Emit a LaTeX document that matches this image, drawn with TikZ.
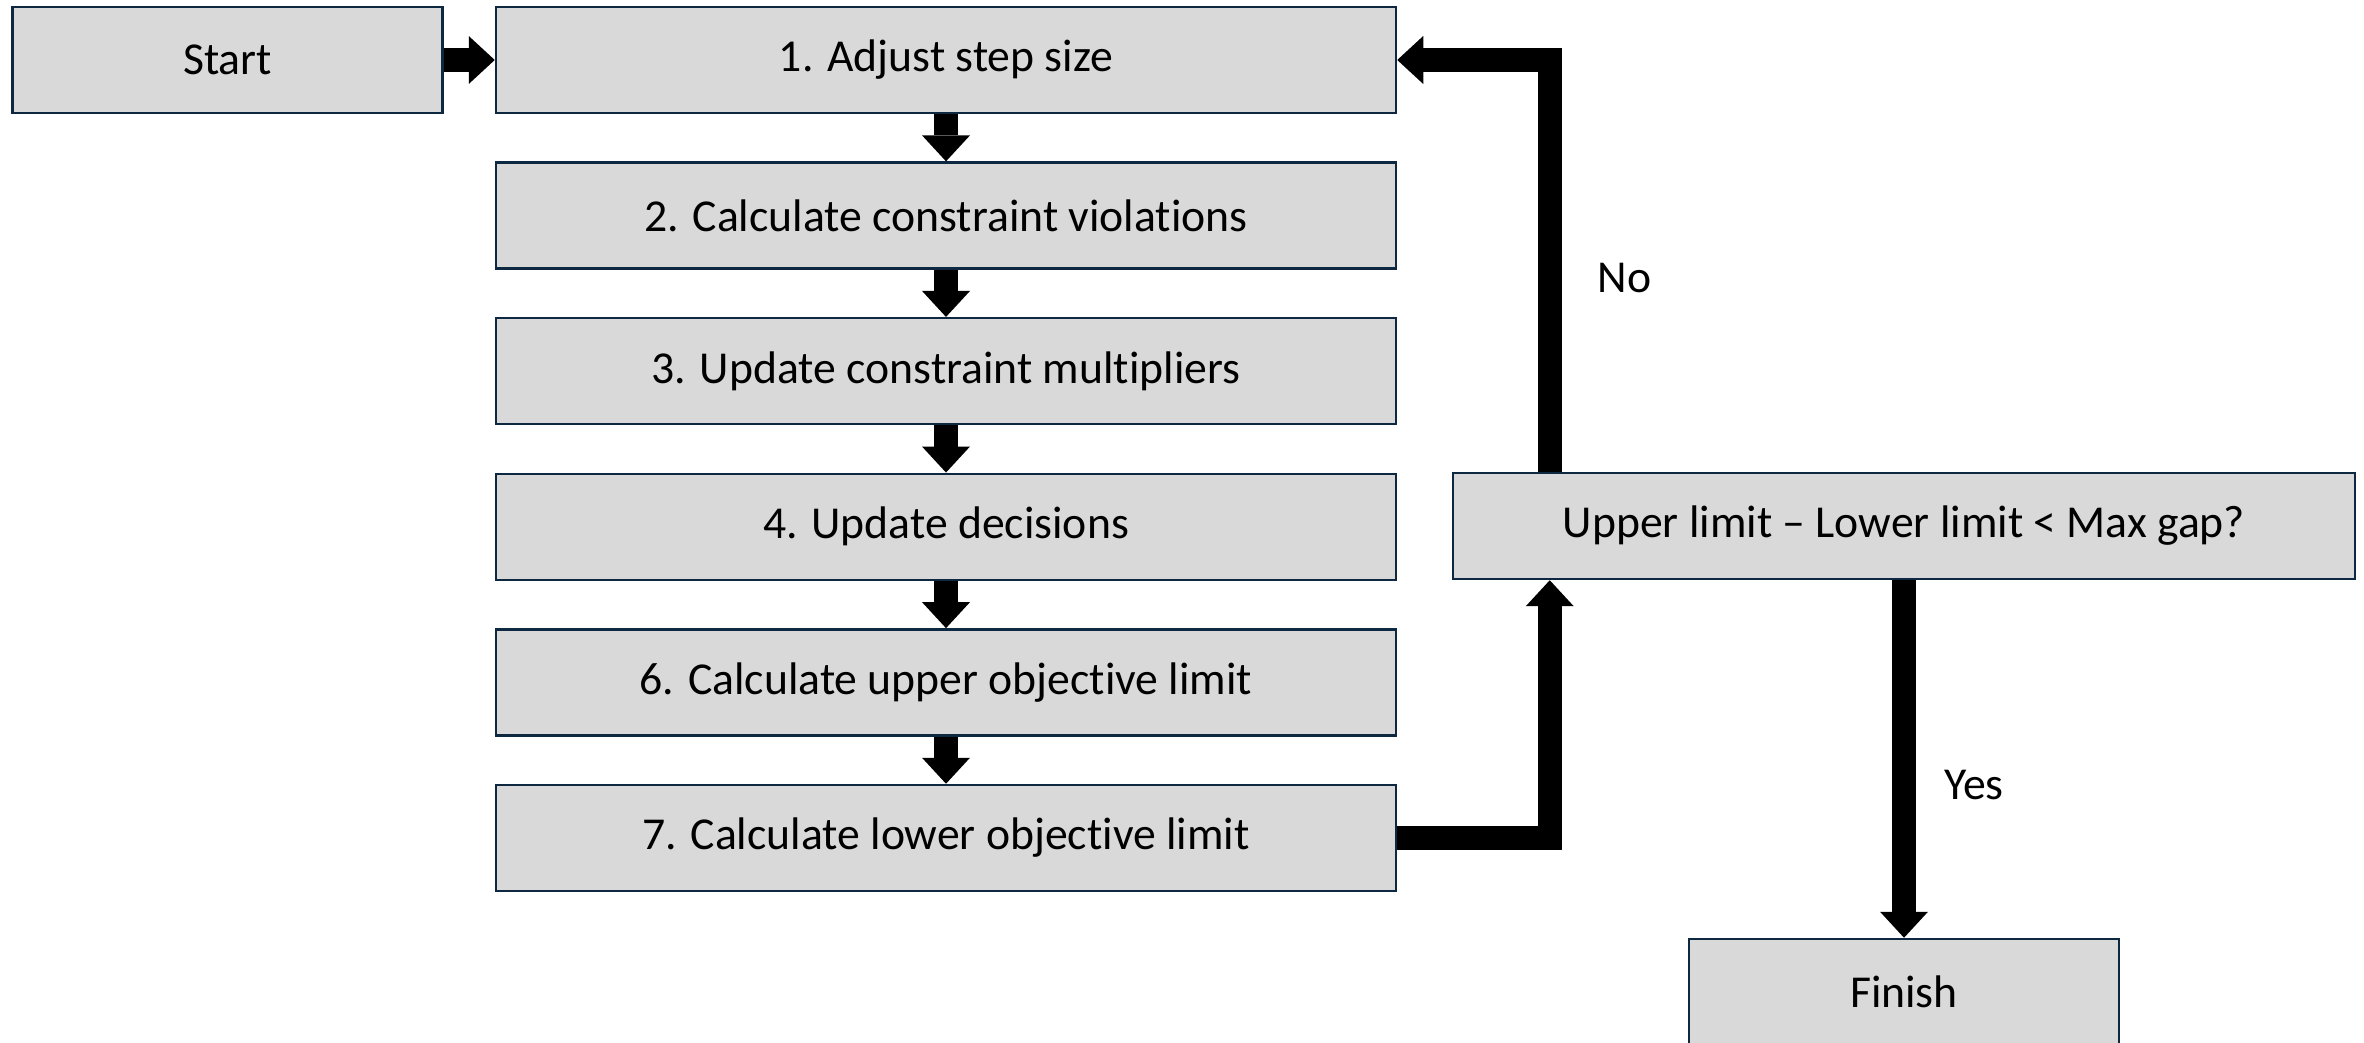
\documentclass[tikz,border=0pt]{standalone}
\usepackage{fontspec}
\setmainfont{Carlito}[Ligatures={NoCommon}]
\usepackage{tikz}
\usetikzlibrary{arrows.meta}
\definecolor{boxfill}{HTML}{D9D9D9}
\definecolor{boxline}{HTML}{0E2841}

\tikzset{
  stepbox/.style={draw=boxline, fill=boxfill, line width=0.025cm, minimum width=9cm, minimum height=1.06cm, font=\fontsize{13}{16}\selectfont},
  endbox/.style={stepbox, minimum width=4.3cm},
  flow/.style={line width=0.24cm, line join=miter, -{Triangle[width=0.48cm, length=0.26cm, line width=0pt]}},
  answer/.style={font=\fontsize{13}{16}\selectfont, inner sep=0pt}
}

\begin{document}
\begin{tikzpicture}
    \useasboundingbox (0,0) rectangle (23.64,-10.43);
    % Start and the step column
    \node[endbox] (start) at (2.275,-0.60){Start};
    \node[stepbox] (s1) at (9.46,-0.60){1. Adjust step size};
    \node[stepbox] (s2) at (9.46,-2.156){2. Calculate constraint violations};
    \node[stepbox] (s3) at (9.46,-3.712){3. Update constraint multipliers};
    \node[stepbox] (s4) at (9.46,-5.268){4. Update decisions};
    \node[stepbox] (s6) at (9.46,-6.824){6. Calculate upper objective limit};
    \node[stepbox] (s7) at (9.46,-8.38){7. Calculate lower objective limit};
    % Gap check and end
    \node[stepbox, minimum width=9.02cm] (gap) at (19.04,-5.26){Upper limit \textendash{} Lower limit < Max gap?};
    \node[endbox] (finish) at (19.04,-9.92){Finish};

    \draw[flow] (start.east) -- (s1.west);
    \draw[flow] (s1.south) -- (s2.north);
    \draw[flow] (s2.south) -- (s3.north);
    \draw[flow] (s3.south) -- (s4.north);
    \draw[flow] (s4.south) -- (s6.north);
    \draw[flow] (s6.south) -- (s7.north);
    % loop back
    \draw[flow] (s7.east) -| ([xshift=0.98cm]gap.south west);
    \draw[flow] ([xshift=0.98cm]gap.north west) |- (s1.east) node[answer, pos=0.25, right=0.36cm, yshift=-0.12cm]{No};
    \draw[flow] (gap.south) -- (finish.north) node[answer, midway, right=0.28cm, yshift=-0.26cm]{Yes};
\end{tikzpicture}
\end{document}
